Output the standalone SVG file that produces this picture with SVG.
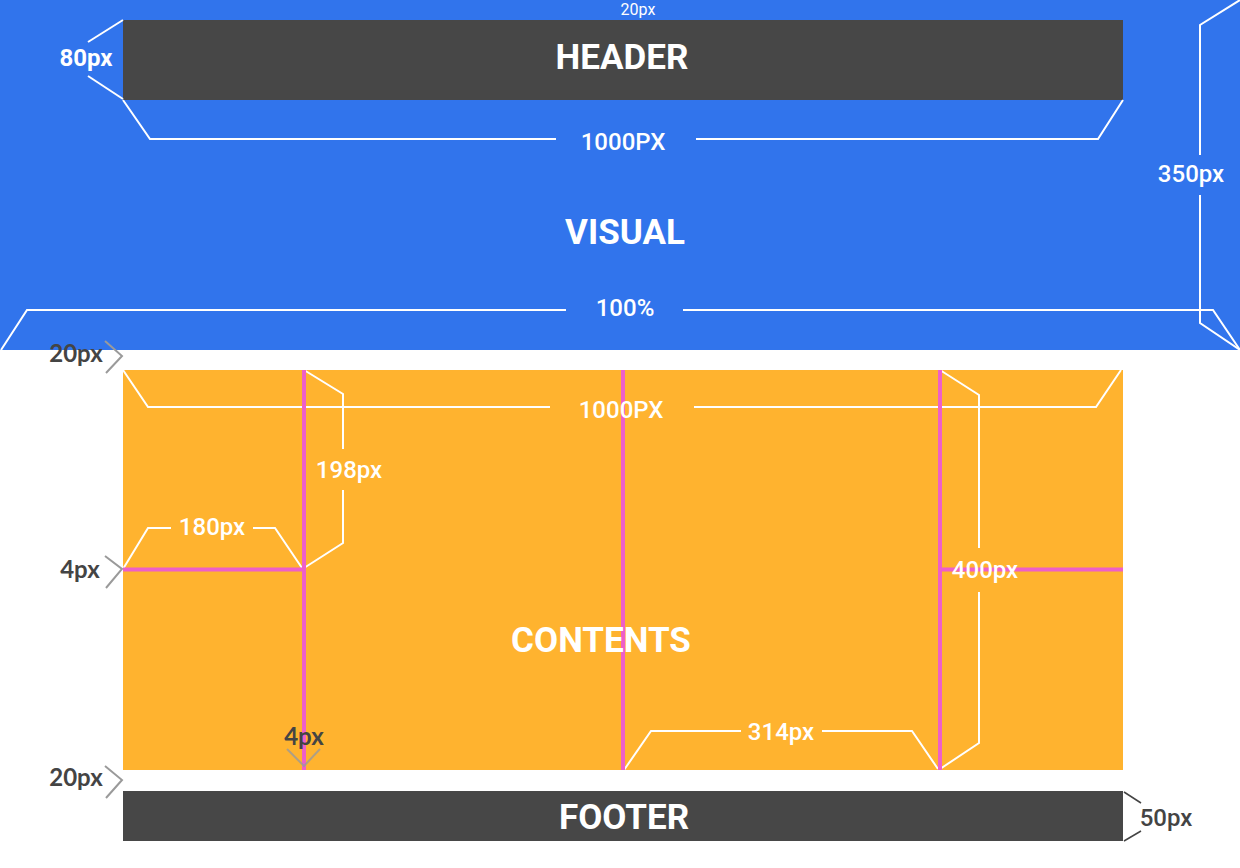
<svg xmlns="http://www.w3.org/2000/svg" width="1240" height="868" viewBox="0 0 1240 868">
<style>
  .dim{fill:none;stroke:#ffffff;stroke-width:2;stroke-linejoin:miter}
  .gdim{fill:none;stroke:#9a9a9a;stroke-width:2}
  .ddim{fill:none;stroke:#444444;stroke-width:1.5}
  .guide{fill:none;stroke:#EE5FC8;stroke-width:4}
  .title{font-family:Roboto,"Liberation Sans",sans-serif;font-weight:bold;font-size:35px;fill:#ffffff;text-anchor:middle}
  .lbl{font-family:Roboto,"Liberation Sans",sans-serif;font-weight:500;font-size:24px;fill:#ffffff;text-anchor:middle}
  .small{font-family:Roboto,"Liberation Sans",sans-serif;font-size:16px;fill:#ffffff;text-anchor:middle}
  .glbl{font-family:Lato,"Liberation Sans",sans-serif;font-weight:bold;font-size:24px;fill:#444444;text-anchor:middle}
  .nlbl{font-family:Roboto,"Liberation Sans",sans-serif;font-weight:500;font-size:24px;fill:#444444;text-anchor:middle}
  .blbl{font-family:Roboto,"Liberation Sans",sans-serif;font-weight:bold;font-size:24px;fill:#ffffff;text-anchor:middle}
</style>
<rect x="0" y="0" width="1240" height="868" fill="#ffffff"/>
<g id="visual">
  <rect x="0" y="0" width="1240" height="350" fill="#3174EC"/>
  <text class="title" x="625" y="244">VISUAL</text>
</g>
<g id="header">
  <rect x="123" y="20" width="1000" height="80" fill="#474747"/>
  <text class="title" x="622" y="69">HEADER</text>
</g>
<g id="contents">
  <rect x="123" y="370" width="1000" height="400" fill="#FFB32F"/>
</g>
<g id="footer">
  <rect x="123" y="791" width="1000" height="50" fill="#474747"/>
  <text class="title" x="624" y="829">FOOTER</text>
</g>
<g id="connectors">
  <polyline class="dim" points="123,20 88,42"/>
  <polyline class="dim" points="88,76 123,99"/>
  <polyline class="dim" points="123,100 150,139 556,139"/>
  <polyline class="dim" points="696,139 1098,139 1123,100"/>
  <polyline class="dim" points="1240,0 1200,25 1200,155"/>
  <polyline class="dim" points="1200,195 1200,323 1240,350"/>
  <polyline class="dim" points="1,350 27,310 566,310"/>
  <polyline class="dim" points="683,310 1213,310 1240,350"/>
  <polyline class="dim" points="123,370 148,407 550,407"/>
  <polyline class="dim" points="694,407 1096,407 1121,370"/>
  <polyline class="dim" points="304,370 343,394 343,449"/>
  <polyline class="dim" points="343,490 343,543 304,568"/>
  <polyline class="dim" points="123,569 148,528 171,528"/>
  <polyline class="dim" points="253,528 275,528 302,568"/>
  <polyline class="dim" points="940,370 979,395 979,548"/>
  <polyline class="dim" points="979,592 979,743 940,769"/>
  <polyline class="dim" points="624,770 651,731 741,731"/>
  <polyline class="dim" points="822,731 912,731 938,769"/>
  <line class="guide" x1="304" y1="370" x2="304" y2="770"/>
  <line class="guide" x1="623" y1="370" x2="623" y2="770"/>
  <line class="guide" x1="940" y1="370" x2="940" y2="770"/>
  <line class="guide" x1="123" y1="569.5" x2="304" y2="569.5"/>
  <line class="guide" x1="940" y1="569.5" x2="1123" y2="569.5"/>
  <polyline class="gdim" points="105,341 122,356 106,373"/>
  <polyline class="gdim" points="105,556 122,569 106,588"/>
  <polyline class="gdim" points="105,766 122,780 106,798"/>
  <polyline class="gdim" points="287,749 304,766 320,749" stroke-opacity="0.8"/>
  <polyline class="ddim" points="1124,792 1141,803"/>
  <polyline class="ddim" points="1141,831 1124,841"/>
</g>
<g id="labels">
  <text class="small" x="638" y="15">20px</text>
  <text class="blbl" x="86" y="66">80px</text>
  <text class="lbl" x="623" y="150">1000PX</text>
  <text class="lbl" x="1191" y="182">350px</text>
  <text class="lbl" x="625" y="316">100%</text>
  <text class="glbl" x="76" y="362">20px</text>
  <text class="lbl" x="621" y="418">1000PX</text>
  <text class="lbl" x="349" y="478">198px</text>
  <text class="lbl" x="212" y="535">180px</text>
  <text class="glbl" x="80" y="578">4px</text>
  <text class="lbl" x="985" y="578">400px</text>
  <text class="title" x="601" y="652">CONTENTS</text>
  <text class="lbl" x="781" y="740">314px</text>
  <text class="glbl" x="304" y="745">4px</text>
  <text class="glbl" x="76" y="786">20px</text>
  <text class="nlbl" x="1166" y="826">50px</text>
</g>
</svg>
